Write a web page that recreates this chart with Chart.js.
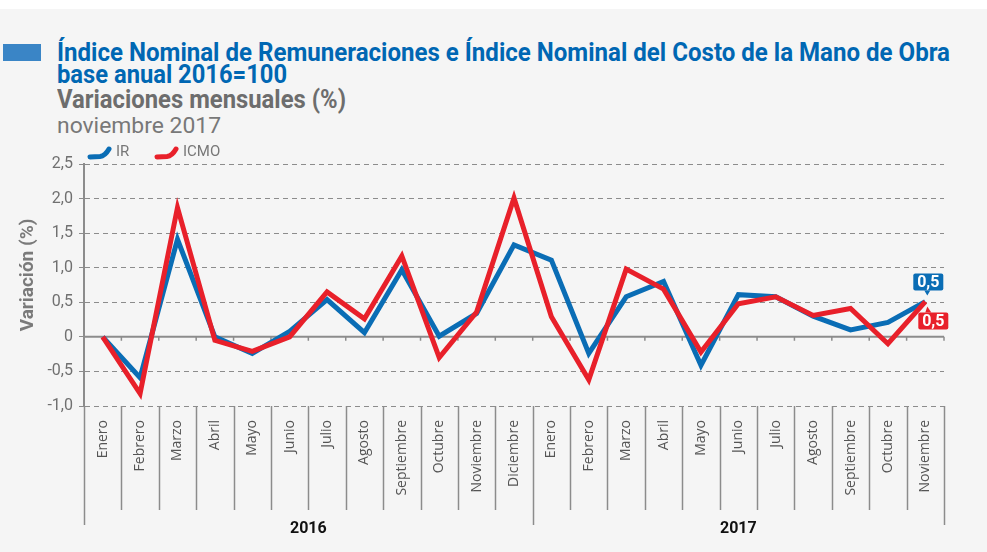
<!DOCTYPE html>
<html>
<head>
<meta charset="utf-8">
<script src="https://cdn.jsdelivr.net/npm/chart.js@4.4.0/dist/chart.umd.min.js"></script>
<style>
  body { margin: 0; width: 987px; height: 552px; overflow: hidden; position: relative; background: #f5f5f5; font-family: Roboto, sans-serif; }
  #topbar { position: absolute; left: 0; top: 0; width: 987px; height: 9px; background: #fff; }
  #mark { position: absolute; left: 3px; top: 44px; width: 38px; height: 17px; background: #3a85c6; }
  .t { position: absolute; left: 57px; white-space: nowrap; transform-origin: 0 0; }
  #t1, #t2 { color: #0067b3; font-weight: 700; font-size: 25px; line-height: 25px; }
  #t1 { top: 40px; }
  #t2 { top: 62px; }
  #t3 { top: 87px; color: #6d6d6d; font-weight: 700; font-size: 25px; line-height: 25px; }
  #t4 { top: 113px; color: #787878; font-weight: 400; font-size: 22px; line-height: 25px; }
  canvas { position: absolute; left: 0; top: 0; }
</style>
</head>
<body>
<div id="topbar"></div>
<div id="mark"></div>
<div class="t" id="t1" data-w="893">Índice Nominal de Remuneraciones e Índice Nominal del Costo de la Mano de Obra</div>
<div class="t" id="t2" data-w="230">base anual 2016=100</div>
<div class="t" id="t3" data-w="289">Variaciones mensuales (%)</div>
<div class="t" id="t4" data-w="164">noviembre 2017</div>
<canvas id="myChart" width="987" height="552"></canvas>
<script>
// categories
const monthLabels = [
  'Enero', 'Febrero', 'Marzo', 'Abril', 'Mayo', 'Junio', 'Julio', 'Agosto', 'Septiembre', 'Octubre', 'Noviembre', 'Diciembre',
  'Enero', 'Febrero', 'Marzo', 'Abril', 'Mayo', 'Junio', 'Julio', 'Agosto', 'Septiembre', 'Octubre', 'Noviembre'
];
const years = ['2016', '2017'];
const monthsPerYear = [12, 11];

// series (variación mensual %)
const irValues = [0, -0.59, 1.41, 0.0, -0.24, 0.08, 0.54, 0.06, 0.97, 0.01, 0.34, 1.33,
  1.11, -0.24, 0.58, 0.80, -0.41, 0.61, 0.58, 0.30, 0.10, 0.21, 0.51];
const icmoValues = [0, -0.82, 1.87, -0.05, -0.21, 0.0, 0.65, 0.26, 1.17, -0.30, 0.36, 2.01,
  0.29, -0.62, 0.98, 0.69, -0.22, 0.48, 0.58, 0.31, 0.41, -0.10, 0.51];

// y ticks
const yTicks = [-1.0, -0.5, 0, 0.5, 1.0, 1.5, 2.0, 2.5];

const blue = '#0a6db5';
const red = '#e8202a';
const grey = '#8c8c8c';

// squeeze title lines to their width in the picture
document.querySelectorAll('.t').forEach(el => {
  const w = el.getBoundingClientRect().width;
  el.style.transform = 'scaleX(' + (el.dataset.w / w) + ')';
});

const fmt = v => v === 0 ? '0' : v.toFixed(1).replace('.', ',');

const decor = {
  id: 'decor',
  beforeDatasetsDraw(chart) {
    const { ctx, chartArea, scales: { x, y } } = chart;
    const y0 = y.getPixelForValue(0);
    ctx.save();
    ctx.strokeStyle = grey;
    ctx.lineWidth = 2;
    ctx.beginPath();
    ctx.moveTo(chartArea.left, y0);
    ctx.lineTo(chartArea.right, y0);
    ctx.stroke();
    ctx.lineWidth = 1.5;
    ctx.beginPath();
    for (let i = 1; i <= monthLabels.length; i++) {
      const px = x.getPixelForValue(i - 0.5);
      ctx.moveTo(px, y0);
      ctx.lineTo(px, y0 + 4);
    }
    ctx.stroke();
    ctx.restore();
  },
  afterDraw(chart) {
    const { ctx, chartArea, scales: { x, y } } = chart;
    const bottom = chartArea.bottom;
    ctx.save();

    // separators under the axis
    const yearEdges = [0];
    monthsPerYear.forEach(n => yearEdges.push(yearEdges[yearEdges.length - 1] + n));
    ctx.strokeStyle = grey;
    ctx.lineWidth = 1.5;
    for (let i = 0; i <= monthLabels.length; i++) {
      const px = Math.round(x.getPixelForValue(i - 0.5)) + 0.5;
      const len = yearEdges.includes(i) ? 119 : 104;
      ctx.beginPath();
      ctx.moveTo(px, bottom);
      ctx.lineTo(px, bottom + len);
      ctx.stroke();
    }

    // year labels
    ctx.fillStyle = '#111';
    ctx.font = 'bold 16px Roboto';
    ctx.textAlign = 'center';
    ctx.textBaseline = 'middle';
    years.forEach((yr, k) => {
      const a = x.getPixelForValue(yearEdges[k] - 0.5);
      const b = x.getPixelForValue(yearEdges[k + 1] - 0.5);
      ctx.fillText(yr, (a + b) / 2, bottom + 123);
    });

    // y axis title
    ctx.save();
    ctx.translate(28, 275);
    ctx.rotate(-Math.PI / 2);
    ctx.fillStyle = '#7a7a7a';
    ctx.font = 'bold 19px Roboto';
    ctx.fillText('Variación (%)', 0, 0);
    ctx.restore();

    // legend
    const legendItems = [[chart.data.datasets[0], 88], [chart.data.datasets[1], 155]];
    legendItems.forEach(([ds, lx]) => {
      ctx.strokeStyle = ds.borderColor;
      ctx.lineWidth = 5;
      ctx.lineCap = 'round';
      ctx.beginPath();
      ctx.moveTo(lx + 2, 157);
      ctx.lineTo(lx + 12, 156.5);
      ctx.quadraticCurveTo(lx + 17, 156, lx + 21, 149);
      ctx.stroke();
      ctx.fillStyle = '#777';
      ctx.font = '15px Roboto';
      ctx.textAlign = 'left';
      ctx.fillText(ds.label, lx + 28, 152);
    });

    // end value labels
    const last = monthLabels.length - 1;
    const drawTag = (ds, color, up) => {
      const v = ds.data[last];
      const px = x.getPixelForValue(last);
      const py = y.getPixelForValue(v);
      const bw = 30, bh = 17;
      const bx = up ? px - 12 : px - 7;
      const by = up ? py - 28 : py + 11;
      ctx.fillStyle = color;
      ctx.beginPath();
      ctx.roundRect(bx, by, bw, bh, 2);
      ctx.fill();
      ctx.beginPath();
      if (up) {
        ctx.moveTo(px - 1, by + bh);
        ctx.lineTo(px + 5, by + bh);
        ctx.lineTo(px + 2, py - 6);
      } else {
        ctx.moveTo(px, by);
        ctx.lineTo(px + 6, by);
        ctx.lineTo(px + 2, py + 5);
      }
      ctx.fill();
      ctx.fillStyle = '#fff';
      ctx.font = 'bold 16px Roboto';
      ctx.textAlign = 'center';
      ctx.textBaseline = 'middle';
      ctx.fillText(fmt(Math.round(v * 10) / 10), bx + bw / 2, by + bh / 2 + 1);
    };
    drawTag(chart.data.datasets[0], blue, true);
    drawTag(chart.data.datasets[1], red, false);

    ctx.restore();
  }
};

const ctx = document.getElementById('myChart');
new Chart(ctx, {
  type: 'line',
  data: {
    labels: monthLabels,
    datasets: [
      {
        label: 'IR',
        data: irValues,
        borderColor: blue,
        borderWidth: 5,
        pointRadius: 0,
        tension: 0,
        borderJoinStyle: 'miter',
        order: 1
      },
      {
        label: 'ICMO',
        data: icmoValues,
        borderColor: red,
        borderWidth: 5,
        pointRadius: 0,
        tension: 0,
        borderJoinStyle: 'miter',
        order: 0
      }
    ]
  },
  options: {
    responsive: false,
    animation: false,
    layout: { padding: { top: 164, right: 43, bottom: 0, left: 0 } },
    plugins: { legend: { display: false }, tooltip: { enabled: false } },
    scales: {
      x: {
        offset: true,
        grid: { display: false },
        border: { display: false },
        ticks: {
          autoSkip: false,
          minRotation: 90,
          maxRotation: 90,
          padding: 6,
          color: '#555',
          font: { family: 'Open Sans', size: 14 }
        },
        afterFit(scale) { scale.height = 146; }
      },
      y: {
        min: -1.0,
        max: 2.5,
        afterBuildTicks(scale) { scale.ticks = yTicks.map(v => ({ value: v })); },
        grid: { color: grey, lineWidth: 1, tickLength: 5 },
        border: { display: true, color: grey, width: 2, dash: [5, 4] },
        ticks: {
          color: '#707070',
          padding: 6,
          font: { family: 'Roboto', size: 16 },
          callback: v => fmt(v)
        },
        afterFit(scale) { scale.width = 84; }
      }
    }
  },
  plugins: [decor]
});
</script>
</body>
</html>
